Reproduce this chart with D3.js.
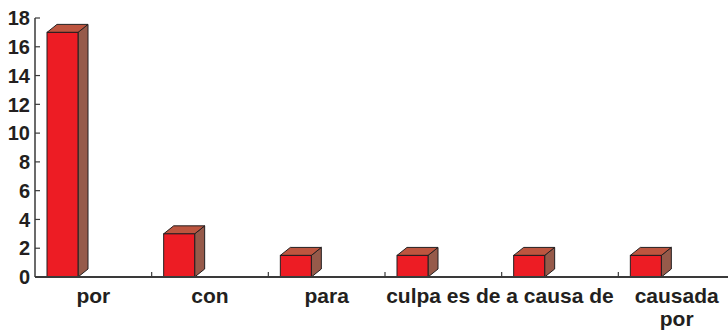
<!DOCTYPE html>
<html>
<head>
<meta charset="utf-8">
<script src="https://cdn.jsdelivr.net/npm/d3@7"></script>
<style>
  html, body { margin: 0; padding: 0; background: #fff; }
  svg { display: block; }
  text { font-family: "Liberation Sans", Arial, Helvetica, sans-serif; font-weight: bold; fill: #231f20; }
</style>
</head>
<body>
<svg id="chart" width="728" height="332"></svg>
<script>
// Frequency of each causal expression
const categories = ["por", "con", "para", "culpa es de", "a causa de", "causada por"];
const values = [17, 3, 1.5, 1.5, 1.5, 1.5];
const yTicks = [0, 2, 4, 6, 8, 10, 12, 14, 16, 18];

const svg = d3.select("#chart");
const x0 = 35, x1 = 735, yTop = 18, yBase = 277;

const x = d3.scaleBand().domain(categories).range([x0, x1]).paddingInner(0).paddingOuter(0);
const y = d3.scaleLinear().domain([0, 18]).range([yBase, yTop]);

const depthX = 10, depthY = 8;
const barOffset = 12, barW = 31;

// Bars drawn as 3D boxes: front, top and side faces
const bars = svg.append("g").selectAll("g").data(categories).join("g");
bars.each(function(c, i) {
  const g = d3.select(this);
  const left = x(c) + barOffset, right = left + barW;
  const top = y(values[i]), bottom = y(0);
  g.append("path")
    .attr("d", `M${right},${bottom} L${right + depthX},${bottom - depthY} L${right + depthX},${top - depthY} L${right},${top} Z`)
    .attr("fill", "#965a4a").attr("stroke", "#231f20").attr("stroke-width", 1).attr("stroke-linejoin", "round");
  g.append("path")
    .attr("d", `M${left},${top} L${left + depthX},${top - depthY} L${right + depthX},${top - depthY} L${right},${top} Z`)
    .attr("fill", "#bd553f").attr("stroke", "#231f20").attr("stroke-width", 1).attr("stroke-linejoin", "round");
  g.append("rect")
    .attr("x", left).attr("y", top).attr("width", barW).attr("height", bottom - top)
    .attr("fill", "#ed1c24").attr("stroke", "#231f20").attr("stroke-width", 1);
});

// Y axis
const yAxis = svg.append("g");
yAxis.append("line").attr("x1", x0).attr("x2", x0).attr("y1", yTop).attr("y2", yBase)
  .attr("stroke", "#3a3a3a").attr("stroke-width", 1.5);
yAxis.selectAll("line.tick").data(yTicks).join("line").attr("class", "tick")
  .attr("x1", x0).attr("x2", x0 + 5).attr("y1", d => y(d)).attr("y2", d => y(d))
  .attr("stroke", "#3a3a3a").attr("stroke-width", 1.2);
yAxis.selectAll("text").data(yTicks).join("text")
  .attr("x", 30).attr("y", d => y(d)).attr("dy", "0.36em")
  .attr("text-anchor", "end").attr("font-size", 20).text(d => d);

// X axis
const xAxis = svg.append("g");
xAxis.append("line").attr("x1", x0).attr("x2", 728).attr("y1", yBase).attr("y2", yBase)
  .attr("stroke", "#3a3a3a").attr("stroke-width", 1.8);
xAxis.selectAll("line.tick").data(categories.slice(1)).join("line").attr("class", "tick")
  .attr("x1", d => x(d)).attr("x2", d => x(d)).attr("y1", yBase).attr("y2", yBase - 5)
  .attr("stroke", "#3a3a3a").attr("stroke-width", 1.2);

// Category labels; the last one is split over two lines
xAxis.selectAll("text").data(categories).join("text")
  .attr("text-anchor", "middle").attr("font-size", 21)
  .each(function(c) {
    const t = d3.select(this);
    const cx = x(c) + x.bandwidth() / 2;
    const lines = c === "causada por" ? ["causada", "por"] : [c];
    lines.forEach((ln, k) => {
      t.append("tspan").attr("x", cx).attr("y", 303 + k * 23).text(ln);
    });
  });
</script>
</body>
</html>
